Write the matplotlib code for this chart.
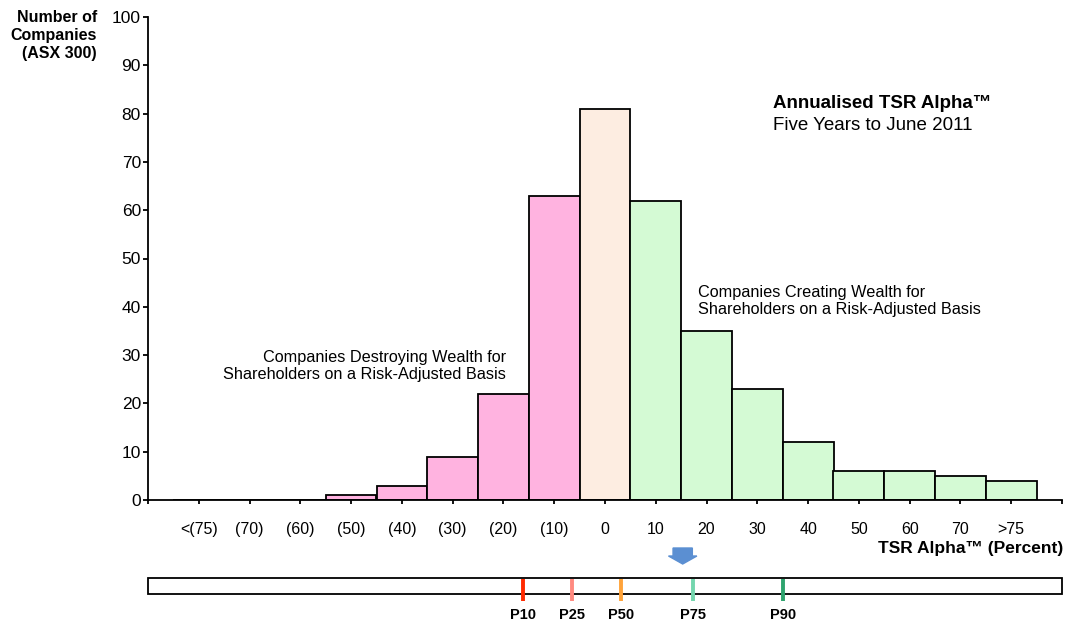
import numpy as np
import matplotlib
matplotlib.use("Agg")
import matplotlib.pyplot as plt
from matplotlib.patches import FancyArrow

plt.rcParams['font.family'] = ['Liberation Sans', 'DejaVu Sans']

# TSR alpha buckets and number of ASX 300 companies in each
categories = ['<(75)', '(70)', '(60)', '(50)', '(40)', '(30)', '(20)', '(10)',
              '0', '10', '20', '30', '40', '50', '60', '70', '>75']
counts = [0, 0, 0, 1, 3, 9, 22, 63, 81, 62, 35, 23, 12, 6, 6, 5, 4]

# percentile positions on the same scale (percent TSR alpha)
pct_labels = ['P10', 'P25', 'P50', 'P75', 'P90']
pct_values = [-16.2, -6.5, 3.1, 17.4, 35.1]
pct_colors = ['#ff2a00', '#ff8a80', '#ffa33a', '#74d6ae', '#2ea36e']
arrow_value = 15.3

pink = '#ffb3e0'
peach = '#fdede1'
green = '#d4fad4'

fig = plt.figure(figsize=(10.68, 6.24), dpi=100)
W, H = 1068, 624

def px_axes(x0, y0, x1, y1):
    return fig.add_axes([x0 / W, 1 - y1 / H, (x1 - x0) / W, (y1 - y0) / H])

ax = px_axes(148, 17, 1062, 500)

x = np.arange(1, len(categories) + 1)
zero_idx = categories.index('0')
colors = [pink if i < zero_idx else peach if i == zero_idx else green
          for i in range(len(categories))]
ax.bar(x, counts, width=1.0, color=colors, edgecolor='black', linewidth=1.3)

ax.set_xlim(0, len(categories) + 1)
ax.set_ylim(0, 100)
ax.set_yticks(range(0, 101, 10))
ax.set_xticks(np.arange(0, len(categories) + 2))
ax.set_xticklabels([''] + categories + [''])
ax.tick_params(axis='x', direction='out', length=3, width=1.3, pad=13, labelsize=11.5)
ax.tick_params(axis='y', direction='out', length=3.6, width=1.3, pad=1.5, labelsize=12.5)
for s in ['top', 'right']:
    ax.spines[s].set_visible(False)
for s in ['left', 'bottom']:
    ax.spines[s].set_linewidth(1.3)

fig.text(97 / W, 1 - 10 / H, 'Number of\nCompanies\n(ASX 300)', ha='right', va='top',
         fontsize=11.5, fontweight='bold', linespacing=1.25)
fig.text(1063 / W, 1 - 548 / H, 'TSR Alpha™ (Percent)', ha='right', va='center',
         fontsize=12.5, fontweight='bold')

fig.text(773 / W, 1 - 104 / H, 'Annualised TSR Alpha™', ha='left', va='center',
         fontsize=13.5, fontweight='bold')
fig.text(773 / W, 1 - 126 / H, 'Five Years to June 2011', ha='left', va='center',
         fontsize=13.5)

fig.text(506 / W, 1 - 366 / H, 'Companies Destroying Wealth for\nShareholders on a Risk-Adjusted Basis',
         ha='right', va='center', fontsize=11.7, linespacing=1.2)
fig.text(698 / W, 1 - 301 / H, 'Companies Creating Wealth for\nShareholders on a Risk-Adjusted Basis',
         ha='left', va='center', fontsize=11.7, linespacing=1.2)

# percentile strip below the histogram, sharing the bucket scale
strip = px_axes(148, 560, 1062, 620)
strip.set_xlim(ax.get_xlim())
strip.set_ylim(0, 60)
strip.invert_yaxis()
strip.axis('off')
strip.add_patch(plt.Rectangle((0, 18), len(categories) + 1, 16, facecolor='white',
                              edgecolor='black', linewidth=1.3, clip_on=False))

def to_x(v):
    return zero_idx + 1 + v / 10.0

for lab, v, c in zip(pct_labels, pct_values, pct_colors):
    xp = to_x(v)
    strip.plot([xp, xp], [18.7, 41], color=c, linewidth=2.8, solid_capstyle='butt', clip_on=False)
    strip.text(xp, 55, lab, ha='center', va='center', fontsize=10.5, fontweight='bold')

xa = to_x(arrow_value)
strip.add_patch(FancyArrow(xa, -12, 0, 16, width=0.38, head_width=0.56, head_length=8,
                           length_includes_head=True, color='#5b8fd2', clip_on=False))

fig.savefig('out.png', dpi=100)
